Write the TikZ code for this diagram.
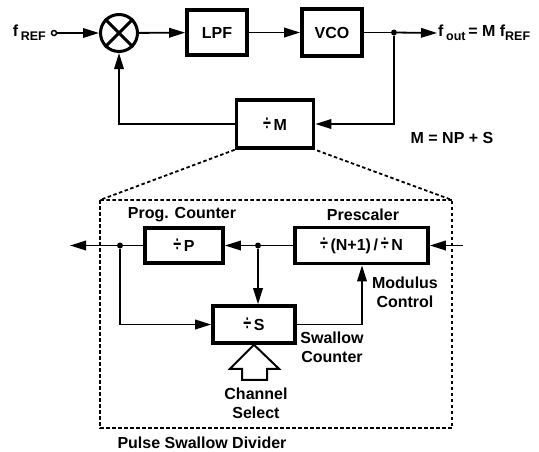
\documentclass[tikz,border=0pt]{standalone}
\usepackage{fontspec}
\setmainfont{Liberation Sans}
\usetikzlibrary{arrows.meta}
\newcommand{\subtxt}[1]{\raisebox{-0.45ex}{\fontsize{12.5}{12.5}\selectfont #1}}
\newcommand{\dv}{\scalebox{0.9}[1.35]{÷}}
\begin{document}
\begin{tikzpicture}[x=1pt,y=-1pt,
  every node/.style={font=\fontsize{16}{17}\selectfont\bfseries},
  blk/.style={draw,line width=3.6pt,inner sep=0pt},
  conn/.style={line width=1.8pt,-{Triangle[length=16pt,width=9.5pt]}},
  wire/.style={line width=1.8pt},
  dotn/.style={circle,fill,inner sep=0pt,minimum size=6pt},
  dashbox/.style={line width=1.8pt,dash pattern=on 3.5pt off 2.5pt}]
\useasboundingbox (0,0) rectangle (539,451);
% top loop
\node[anchor=east,inner sep=1pt] (fref) at (47,33) {f\,\subtxt{REF}};
\node[circle,draw,line width=1.5pt,fill=white,inner sep=0pt,minimum size=5pt] (in) at (54,33) {};
\node[circle,draw,line width=3pt,minimum size=37pt,inner sep=0pt] (mix) at (119,33) {};
\draw[line width=3pt] (mix.north west) -- (mix.south east) (mix.north east) -- (mix.south west);
\node[blk,minimum width=60pt,minimum height=45pt] (lpf) at (217,32.5) {LPF};
\node[blk,minimum width=60pt,minimum height=47pt] (vco) at (332,32.5) {VCO};
\node[dotn] (d1) at (394,32.5) {};
\node[anchor=west,inner sep=1pt] (fout) at (437,33) {f\,\subtxt{out}\,= M f\subtxt{REF}};
\node[blk,minimum width=77pt,minimum height=48pt] (mdiv) at (275,124) {\dv\,M};
\node (eq) at (452,138) {M = NP + S};
\draw[conn] (in) -- (mix);
\draw[conn] (mix) -- (lpf);
\draw[conn] (lpf) -- (vco);
\draw[wire] (vco) -- (d1);
\draw[conn] (d1) -- (fout.west);
\draw[conn] (d1) |- (mdiv.east);
\draw[conn] (mdiv.west) -| (mix.south);
% expansion
\coordinate (bl) at (100,200);
\coordinate (br) at (452,200);
\draw[dashbox] (mdiv.south west) -- (bl) -- (br) -- (mdiv.south east);
\draw[dashbox] (bl) -- (100,428) -- (452,428) -- (br);
% divider
\node[blk,minimum width=78pt,minimum height=35pt] (p) at (184,245.5) {\dv\,P};
\node[blk,minimum width=133pt,minimum height=36pt] (pre) at (361.5,245.5) {\dv\,(N+1)\,/\,\dv\,N};
\node[blk,minimum width=82pt,minimum height=37pt] (s) at (254,324.5) {\dv\,S};
\node (pcl) at (182,215) {Prog. Counter};
\node (prl) at (363,215) {Prescaler};
\node[align=center,font=\fontsize{16}{19}\selectfont\bfseries] (mcl) at (405,292) {Modulus\\Control};
\node[align=center,font=\fontsize{16}{19}\selectfont\bfseries] (scl) at (332,347) {Swallow\\Counter};
\node[align=center,font=\fontsize{16}{19}\selectfont\bfseries] (csl) at (256,403) {Channel\\Select};
\node (psd) at (202,443) {Pulse Swallow Divider};
\coordinate (inr) at (463,245.5);
\coordinate (outl) at (70,245.5);
\node[dotn] (d2) at (258,245.5) {};
\node[dotn] (d3) at (120,245.5) {};
\draw[conn] (inr) -- (pre.east);
\draw[wire] (pre.west) -- (d2);
\draw[conn] (d2) -- (p.east);
\draw[wire] (p.west) -- (d3);
\draw[conn] (d3) -- (outl);
\draw[conn] (d2) -- (d2 |- s.north);
\draw[conn] (d3) |- (s.west);
\draw[conn] (s.east) -| (pre.south -| 362,0);
\draw[line width=2pt,fill=white,line join=miter] (s.south) -- ++(25,24) -- ++(-12,0) -- ++(0,11) -- ++(-25,0) -- ++(0,-11) -- ++(-12,0) -- cycle;
\end{tikzpicture}
\end{document}
